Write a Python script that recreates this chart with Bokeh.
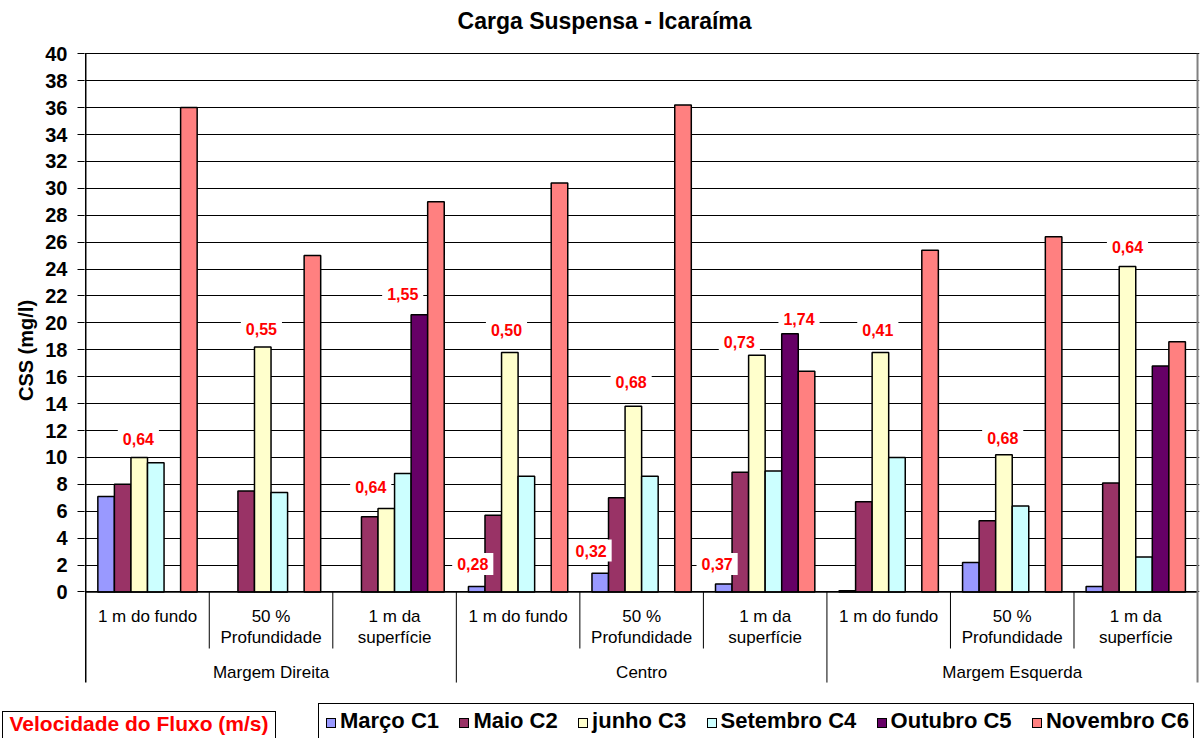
import math
from bokeh.plotting import figure
from bokeh.layouts import column
from bokeh.models import (Range1d, FixedTicker, ColumnDataSource, Title, Div)
from bokeh.core.properties import value
from bokeh.embed import file_html
from bokeh.resources import INLINE

# ---------------- data ----------------
title_text = "Carga Suspensa - Icaraíma"
y_label = "CSS (mg/l)"
margins = ["Margem Direita", "Centro", "Margem Esquerda"]
positions = ["1 m do fundo", "50 %\nProfundidade", "1 m da\nsuperfície"]
series_names = ["Março C1", "Maio C2", "junho C3", "Setembro C4", "Outubro C5", "Novembro C6"]
series_colors = ["#9999FF", "#993366", "#FFFFCC", "#CCFFFF", "#660066", "#FF8080"]

nan = float("nan")
marco = [7.1, nan, nan, 0.4, 1.4, 0.6, 0.1, 2.2, 0.4]
maio = [8.0, 7.5, 5.6, 5.7, 7.0, 8.9, 6.7, 5.3, 8.1]
junho = [10.0, 18.2, 6.2, 17.8, 13.8, 17.6, 17.8, 10.2, 24.2]
setembro = [9.6, 7.4, 8.8, 8.6, 8.6, 9.0, 10.0, 6.4, 2.6]
outubro = [nan, nan, 20.6, nan, nan, 19.2, nan, nan, 16.8]
novembro = [36.0, 25.0, 29.0, 30.4, 36.2, 16.4, 25.4, 26.4, 18.6]
series = [marco, maio, junho, setembro, outubro, novembro]

# flow velocity (m/s) annotations
vel_title = "Velocidade do Fluxo (m/s)"
velocidades = [0.64, 0.55, 1.55, 0.64, 0.28, 0.50, 0.32, 0.68, 0.37, 0.73, 1.74, 0.41, 0.68, 0.64]
# annotation anchor positions (layout, in chart coordinates)
vel_x = [0.426, 1.422, 2.566, 2.307, 3.133, 3.406, 4.091, 4.415, 5.111, 5.291, 5.774, 6.412, 7.423, 8.433]
vel_y = [11.40, 19.52, 22.16, 7.82, 2.09, 19.44, 3.08, 15.61, 2.09, 18.57, 20.30, 19.44, 11.44, 25.61]

y_ticks = list(range(0, 41, 2))

FONT = "Liberation Sans"

# ---------------- main chart ----------------
W = 1202
HA = 700
HB = 38
n_groups = len(margins) * len(positions)
y_lo, y_hi = -8.064, 43.961

pA = figure(width=W, height=HA, output_backend="svg", toolbar_location=None,
            x_range=Range1d(-0.01, n_groups + 0.016), y_range=Range1d(y_lo, y_hi),
            x_axis_location=None, min_border_left=84, min_border_right=3,
            min_border_top=0, min_border_bottom=0)
pA.outline_line_color = None
pA.background_fill_color = "white"
pA.border_fill_color = "white"
pA.xgrid.visible = False
pA.ygrid.ticker = FixedTicker(ticks=y_ticks)
pA.ygrid.grid_line_color = "#000000"
pA.ygrid.grid_line_width = 1

ax = pA.yaxis[0]
ax.ticker = FixedTicker(ticks=y_ticks)
ax.axis_line_color = None
ax.major_tick_out = 7
ax.major_tick_in = 0
ax.minor_tick_line_color = None
ax.major_tick_line_color = "#000000"
ax.major_label_text_font = FONT
ax.major_label_text_font_style = "bold"
ax.major_label_text_font_size = "20px"
ax.major_label_text_color = "#000000"
ax.major_label_standoff = 10

pA.add_layout(Title(text=y_label, align="center", offset=28, text_font=FONT,
                    text_font_size="20px", text_font_style="bold", text_color="#000000",
                    standoff=12), "left")

# bars
bw = 0.134
for j, (vals, col) in enumerate(zip(series, series_colors)):
    xs = [i + 0.5 + (j - 2.5) * bw for i in range(n_groups)]
    src = ColumnDataSource(dict(x=xs, top=vals))
    pA.vbar(x="x", top="top", bottom=0, width=bw, source=src,
            fill_color=col, line_color="#000000", line_width=1.5)

# axis line at 0, left axis line, right border
sep_short_end = -4.2
sep_long_end = -6.73
pA.segment(x0=[0], y0=[0], x1=[n_groups], y1=[0], line_color="#000000", line_width=1.5)
pA.segment(x0=[0], y0=[sep_long_end], x1=[0], y1=[40], line_color="#000000", line_width=1.5)
pA.segment(x0=[n_groups], y0=[sep_long_end], x1=[n_groups], y1=[40], line_color="#808080", line_width=2)

# category separators in axis area
short_x = [i for i in range(1, n_groups) if i % len(positions) != 0]
long_x = [i for i in range(len(positions), n_groups, len(positions))]
pA.segment(x0=short_x, y0=[0] * len(short_x), x1=short_x, y1=[sep_short_end] * len(short_x),
           line_color="#000000", line_width=1)
pA.segment(x0=long_x, y0=[0] * len(long_x), x1=long_x, y1=[sep_long_end] * len(long_x),
           line_color="#000000", line_width=1)

# category labels
lx, ly, lt = [], [], []
line_y = [-1.82, -3.38]
for i in range(n_groups):
    lines = positions[i % len(positions)].split("\n")
    for k, t in enumerate(lines):
        lx.append(i + 0.5)
        ly.append(line_y[k])
        lt.append(t)
pA.text(x=lx, y=ly, text=lt, text_font=value(FONT), text_font_size="17px",
        text_align="center", text_baseline="middle", text_color="#000000")
mx = [k * len(positions) + len(positions) / 2 for k in range(len(margins))]
pA.text(x=mx, y=[-5.96] * len(margins), text=margins, text_font=value(FONT),
        text_font_size="17px", text_align="center", text_baseline="middle", text_color="#000000")

# velocity annotations
vel_txt = [f"{v:.2f}".replace(".", ",") for v in velocidades]
pA.text(x=vel_x, y=vel_y, text=vel_txt, text_font=value(FONT), text_font_size="16px",
        text_font_style="bold", text_color="#FF0000", text_align="center", text_baseline="middle",
        background_fill_color="white", padding=5)

# chart title
pA.text(x=[4.2], y=[42.44], text=[title_text], text_font=value(FONT), text_font_size="23px",
        text_font_style="bold", text_color="#000000", text_align="center", text_baseline="middle")

# ---------------- legend row (HTML) ----------------
item_html = "".join(
    f'<span style="white-space:nowrap;">'
    f'<span style="display:inline-block;width:10px;height:10px;border:1px solid #000;'
    f'background:{c};margin-right:4px;vertical-align:baseline;"></span>{n}</span>'
    for n, c in zip(series_names, series_colors))

html = (
    f'<div style="position:relative;width:{W}px;height:{HB}px;overflow:hidden;'
    f"font-family:'{FONT}',Arial,sans-serif;font-weight:bold;background:#fff;\">"
    f'<div style="position:absolute;left:2px;top:11px;width:274px;height:40px;'
    f'border:1px solid #000;box-sizing:border-box;color:#FF0000;font-size:21px;'
    f'line-height:normal;text-align:center;white-space:nowrap;">{vel_title}</div>'
    f'<div style="position:absolute;left:318px;top:3px;width:876px;height:44px;'
    f'border:1px solid #000;box-sizing:border-box;color:#000;font-size:22px;line-height:normal;'
    f'display:flex;justify-content:space-between;align-items:flex-start;'
    f'padding:4px 4px 0 7px;">{item_html}</div>'
    f'</div>'
)
div = Div(text=html, width=W, height=HB, margin=0)

layout = column(pA, div, spacing=0)
open("out.html", "w").write(file_html(layout, INLINE))
